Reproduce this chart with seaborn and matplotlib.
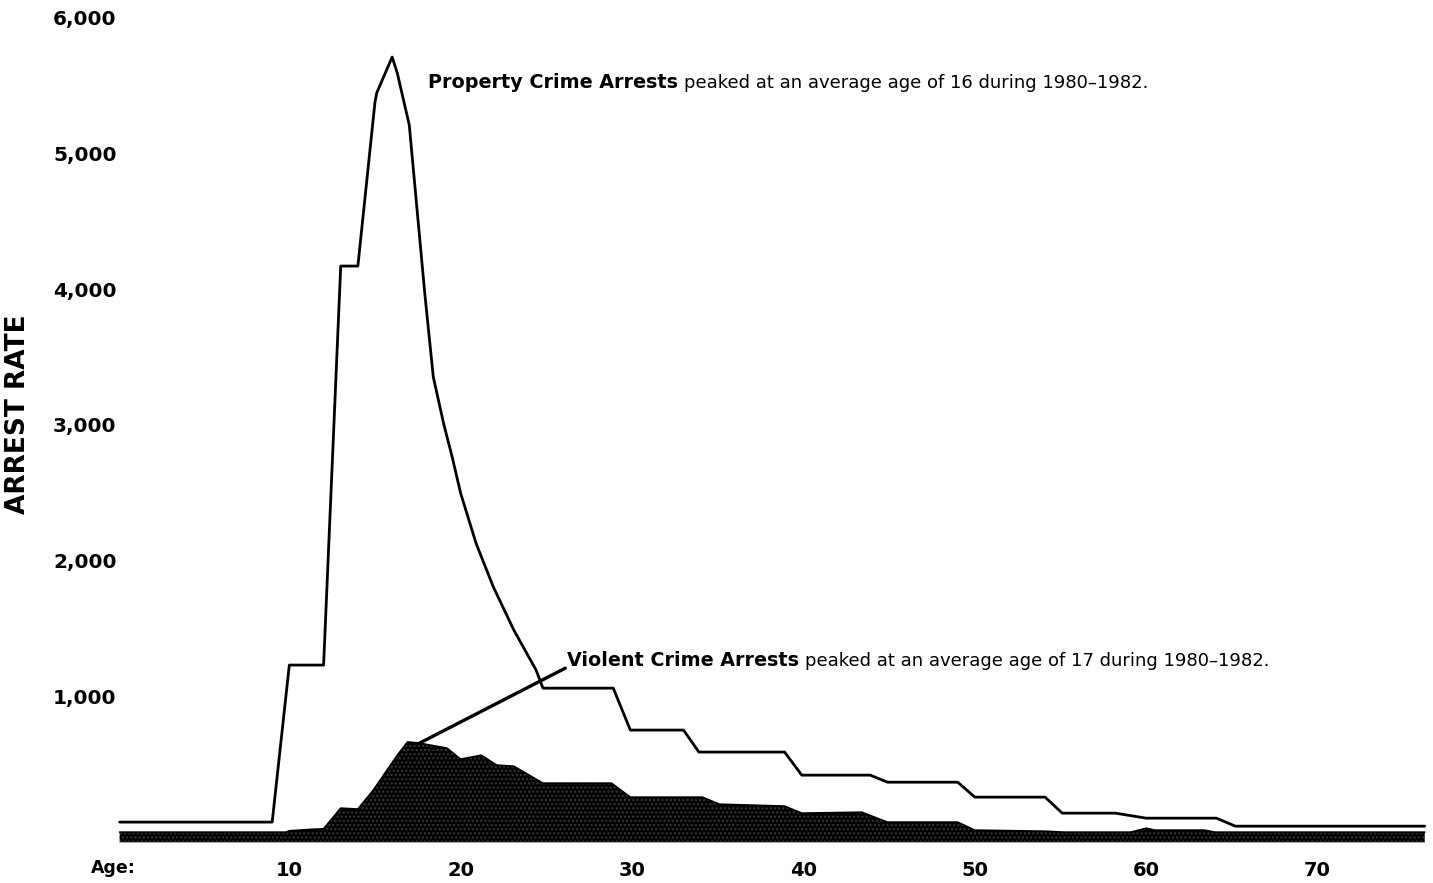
import matplotlib
matplotlib.use("Agg")
import matplotlib.pyplot as plt
import seaborn as sns

# property crime arrest rate by age (line)
prop_age = [0.1, 9.0, 10.0, 12.0, 13.0, 14.0, 15.0, 15.1, 16.0, 16.3, 17.0,
             17.9, 18.4, 19.0, 19.5, 20.0, 20.9, 21.9, 23.1, 24.4, 24.8, 28.9, 29.9,
             33.0, 33.9, 38.9, 39.9, 43.9, 44.9, 49.0, 50.0, 54.1, 55.1, 58.2, 60.0,
             64.1, 65.2, 76.25]
prop_rate = [74, 74, 1231, 1231, 4171, 4171, 5380, 5446, 5711, 5593, 5210,
             3975, 3355, 3012, 2766, 2496, 2127, 1808, 1489, 1194, 1061, 1061, 752,
             752, 590, 590, 420, 420, 368, 368, 258, 258, 140, 140, 103,
             103, 44, 44]

# violent crime arrest rate by age (filled area)
viol_age = [0.1, 9.8, 10.0, 11.2, 12.0, 13.0, 14.0, 14.9, 16.3, 16.9, 17.6, 19.2,
            20.0, 21.2, 22.1, 23.1, 24.8, 28.8, 29.9, 34.1, 35.1, 38.9, 39.9, 43.4,
            44.9, 49.0, 50.0, 54.1, 55.2, 59.1, 60.0, 60.5, 63.4, 64.0, 76.25]
viol_rate = [0, 0, 10, 20, 25, 177, 170, 310, 567, 665, 656, 619,
             538, 567, 494, 486, 361, 361, 258, 258, 206, 192, 140, 147,
             74, 74, 15, 7, 0, 0, 29, 15, 15, 0, 0]

yticks = [1000, 2000, 3000, 4000, 5000, 6000]
xticks = [10, 20, 30, 40, 50, 60, 70]

sns.set_style("white")
plt.rcParams['font.family'] = ['DejaVu Sans']
plt.rcParams['text.color'] = 'black'
plt.rcParams['xtick.color'] = 'black'
plt.rcParams['ytick.color'] = 'black'
plt.rcParams['hatch.linewidth'] = 1.0

fig = plt.figure(figsize=(14.33, 8.83), dpi=100)
ax = fig.add_axes([0.0823, 0.0453, 0.9149, 0.9422])

# violent crime: dark stippled area with heavy base band
ax.fill_between(viol_age, viol_rate, -75, facecolor="black", edgecolor="#3a3a3a",
                hatch="....", linewidth=0)
sns.lineplot(x=viol_age, y=viol_rate, color="black", lw=1.2, sort=False,
             estimator=None, ax=ax)

# property crime line
sns.lineplot(x=prop_age, y=prop_rate, color="black", lw=2.0, sort=False,
             estimator=None, ax=ax)

ax.set_xlim(0, 76.5)
ax.set_ylim(-80, 6050)
ax.set_xticks(xticks)
ax.set_xticklabels([str(t) for t in xticks])
ax.set_yticks(yticks)
ax.set_yticklabels([f"{t:,}" for t in yticks])
ax.tick_params(axis="x", length=0, pad=13, labelsize=14)
ax.tick_params(axis="y", length=0, pad=1, labelsize=14.5)
for lab in ax.get_xticklabels() + ax.get_yticklabels():
    lab.set_fontweight("heavy")
sns.despine(ax=ax, left=True, bottom=True)
ax.set_xlabel("")
ax.set_ylabel("")

fig.text(18 / 1433, 1 - 414 / 883, "ARREST RATE", rotation=90, ha="center",
         va="center", fontsize=19, fontweight="heavy")
fig.text(113 / 1433, 1 - 868 / 883, "Age:", ha="center", va="center",
         fontsize=12.5, fontweight="heavy")

# annotations
t1 = ax.text(18.1, 5520, "Property Crime Arrests", fontsize=13.8, fontweight="heavy",
             va="center", ha="left")
ax.annotate("peaked at an average age of 16 during 1980\u20131982.", xy=(1, 0),
            xycoords=t1, xytext=(4, 0), textcoords="offset points",
            fontsize=13, va="bottom", ha="left")

ax.annotate("", xy=(17.6, 656), xytext=(26.1, 1208),
            arrowprops=dict(arrowstyle="-", color="black", lw=2.4,
                            shrinkA=0, shrinkB=0))
t2 = ax.text(26.2, 1262, "Violent Crime Arrests", fontsize=13.8, fontweight="heavy",
             va="center", ha="left")
ax.annotate("peaked at an average age of 17 during 1980\u20131982.", xy=(1, 0),
            xycoords=t2, xytext=(4, 0), textcoords="offset points",
            fontsize=13, va="bottom", ha="left")

fig.savefig("out.png", dpi=100)
